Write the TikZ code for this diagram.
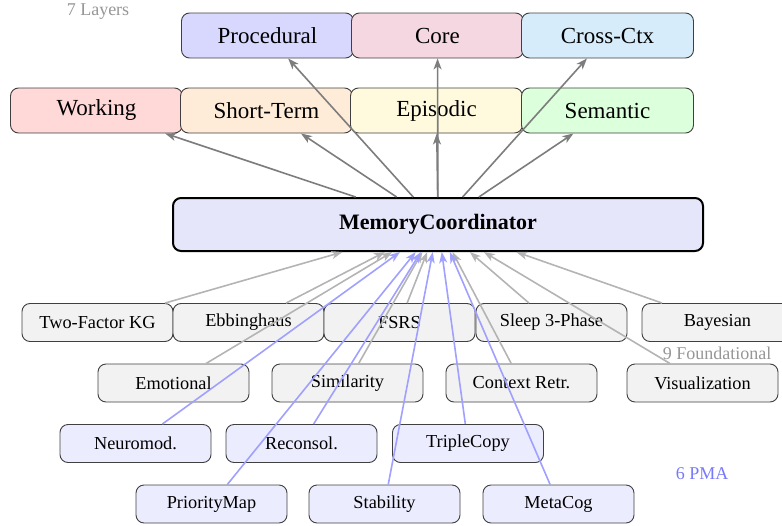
\documentclass[tikz,border=0pt]{standalone}
\usepackage{fontspec}
\setmainfont{Liberation Serif}
\usetikzlibrary{arrows.meta}
\definecolor{cProc}{RGB}{216,216,255}
\definecolor{cCore}{RGB}{244,215,225}
\definecolor{cCross}{RGB}{214,236,250}
\definecolor{cWork}{RGB}{255,216,216}
\definecolor{cShort}{RGB}{255,236,216}
\definecolor{cEpi}{RGB}{255,250,222}
\definecolor{cSem}{RGB}{220,255,220}
\definecolor{cMC}{RGB}{230,230,250}
\definecolor{cFnd}{RGB}{242,242,242}
\definecolor{cPma}{RGB}{236,236,255}
\definecolor{cLayArr}{RGB}{125,125,125}
\definecolor{cFndArr}{RGB}{180,180,180}
\definecolor{cPmaArr}{RGB}{160,160,255}
\definecolor{cLabG}{RGB}{150,150,150}
\definecolor{cLabB}{RGB}{120,120,255}
\begin{document}
\begin{tikzpicture}[x=1pt,y=-1pt,
  layer/.style={draw=black!75, rounded corners=8pt, minimum width=172pt, minimum height=45pt,
    font=\fontsize{23}{26}\selectfont, inner sep=0pt, line width=0.9pt},
  fnd/.style={draw=black!75, fill=cFnd, rounded corners=8pt, minimum width=151pt, minimum height=38pt,
    font=\fontsize{18.3}{21}\selectfont, inner sep=0pt, line width=0.9pt},
  pma/.style={fnd, fill=cPma},
  mcbox/.style={draw=black, fill=cMC, rounded corners=8pt, minimum width=530pt, minimum height=53pt,
    font=\fontsize{22}{25}\selectfont\bfseries, inner sep=0pt, line width=2pt},
  layarr/.style={draw=cLayArr, line width=1.6pt, -{Stealth[length=11pt,width=8pt,inset=3pt]}},
  fndarr/.style={draw=cFndArr, line width=1.6pt, -{Stealth[length=11pt,width=8pt,inset=3pt]}},
  pmaarr/.style={draw=cPmaArr, line width=1.6pt, -{Stealth[length=11pt,width=8pt,inset=3pt]}},
  lab/.style={font=\fontsize{18}{21}\selectfont, inner sep=0pt}
]
\useasboundingbox (0,0) rectangle (782,525);

% layers
\node[layer, fill=cProc]  (proc)  at (267.5,35.5) {Procedural};
\node[layer, fill=cCore]  (core)  at (437.5,35.5) {Core};
\node[layer, fill=cCross] (cross) at (607.5,35.5) {Cross-Ctx};
\node[layer, fill=cWork]  (work)  at (96.5,110.5) {Working};
\node[layer, fill=cShort] (short) at (266.5,110.5) {Short-Term};
\node[layer, fill=cEpi]   (epi)   at (436.5,110.5) {Episodic};
\node[layer, fill=cSem]   (sem)   at (607.5,110.5) {Semantic};

% coordinator
\node[mcbox] (mc) at (438,224.5) {MemoryCoordinator};

% foundational
\node[fnd] (tf)   at (97.5,322.5)  {Two-Factor KG};
\node[fnd] (ebb)  at (248.5,322.5) {Ebbinghaus};
\node[fnd] (fsrs) at (399.5,322.5) {FSRS};
\node[fnd] (slp)  at (551.5,322.5) {Sleep 3-Phase};
\node[fnd] (bay)  at (717.5,322.5) {Bayesian};
\node[fnd] (emo)  at (173.5,383)   {Emotional};
\node[fnd] (sim)  at (347.5,383)   {Similarity};
\node[fnd] (ctx)  at (521.5,383)   {Context Retr.};
\node[fnd] (vis)  at (702.5,383)   {Visualization};

% PMA
\node[pma] (neu) at (135.5,443.5) {Neuromod.};
\node[pma] (rec) at (301.5,443.5) {Reconsol.};
\node[pma] (tri) at (468,443.5)   {TripleCopy};
\node[pma] (pri) at (211.5,504)   {PriorityMap};
\node[pma] (sta) at (384.5,504)   {Stability};
\node[pma] (met) at (558.5,504)   {MetaCog};

% labels
\node[lab, text=cLabG] (l7) at (98,12) {7 Layers};
\node[lab, text=cLabG] (l9) at (717,353) {9 Foundational};
\node[lab, text=cLabB] (l6) at (702,474) {6 PMA};

% arrows to layers
\foreach \n in {work,short,epi,sem,proc,core,cross}
  \draw[layarr] (mc) -- (\n);

% foundational arrows
\foreach \n in {tf,ebb,fsrs,slp,bay,emo,sim,ctx,vis}
  \draw[fndarr] (\n) -- (mc);

% PMA arrows
\foreach \n in {neu,rec,tri,pri,sta,met}
  \draw[pmaarr] (\n) -- (mc);
\end{tikzpicture}
\end{document}
